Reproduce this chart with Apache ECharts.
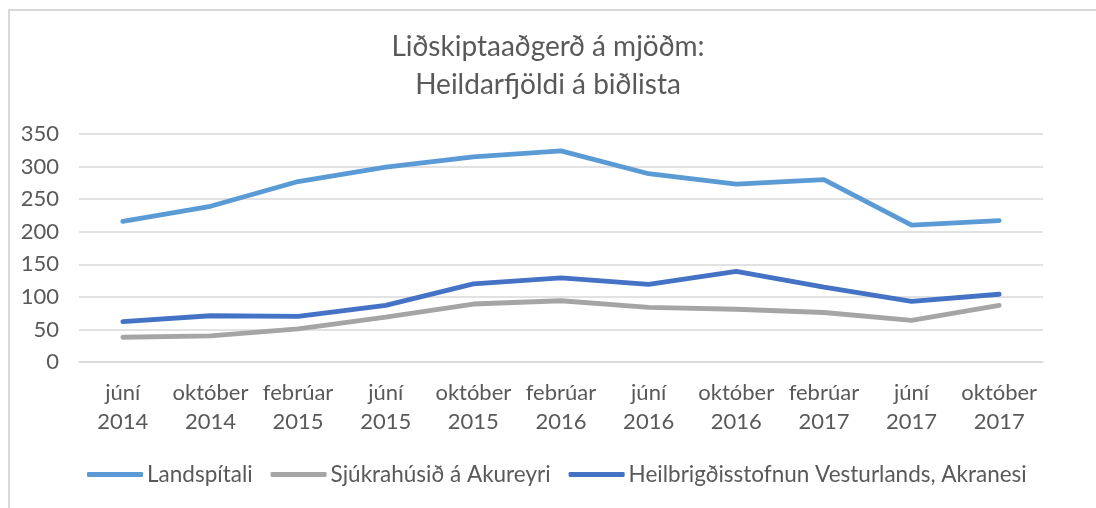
<!DOCTYPE html>
<html>
<head>
<meta charset="utf-8">
<script src="https://cdn.jsdelivr.net/npm/echarts@6/dist/echarts.min.js"></script>
<style>
  html, body { margin: 0; padding: 0; background: #fff; overflow: hidden; }
  .frame {
    position: absolute; left: 8px; top: 9px; width: 1100px; height: 510px;
    border-left: 2px solid #d9d9d9; border-top: 2px solid #d9d9d9;
  }
  #chart { position: absolute; left: 0; top: 0; width: 1096px; height: 508px; }
</style>
</head>
<body>
<div class="frame"></div>
<div id="chart"></div>
<script>
const categories = [
  "júní\n2014", "október\n2014", "febrúar\n2015", "júní\n2015", "október\n2015",
  "febrúar\n2016", "júní\n2016", "október\n2016", "febrúar\n2017", "júní\n2017", "október\n2017"
];
const landspitali = [216, 239, 277, 299, 315, 324, 289, 273, 280, 210, 217];
const akureyri = [38, 40, 51, 69, 89, 94, 84, 81, 76, 64, 87];
const vesturland = [62, 71, 70, 87, 120, 129, 119, 139, 115, 93, 104];
const seriesNames = ["Landspítali", "Sjúkrahúsið á Akureyri", "Heilbrigðisstofnun Vesturlands, Akranesi"];
const colors = ["#5B9BD5", "#A5A5A5", "#4472C4"];

const font = "Lato, 'Open Sans', sans-serif";
const chart = echarts.init(document.getElementById("chart"));

const line = (name, data, color) => ({
  name,
  type: "line",
  data,
  symbol: "none",
  lineStyle: { color, width: 4.8, cap: "round" },
  itemStyle: { color },
});

chart.setOption({
  animation: false,
  color: colors,
  title: {
    text: "Liðskiptaaðgerð á mjöðm:\nHeildarfjöldi á biðlista",
    left: "center",
    top: 23,
    textStyle: { fontFamily: font, fontSize: 28, fontWeight: "normal", color: "#595959", lineHeight: 38 },
  },
  grid: { left: 79, right: 53, top: 134, bottom: 146, containLabel: false },
  legend: {
    bottom: 17,
    left: 82,
    itemWidth: 56,
    itemHeight: 5,
    itemGap: 18,
    icon: "roundRect",
    textStyle: { fontFamily: font, fontSize: 22.5, color: "#595959", padding: [0, 0, 0, -1] },
    data: seriesNames,
  },
  xAxis: {
    type: "category",
    data: categories,
    boundaryGap: true,
    axisLine: { lineStyle: { color: "#d9d9d9", width: 1.5 } },
    axisTick: { show: false },
    axisLabel: { fontFamily: font, fontSize: 22, color: "#595959", lineHeight: 29, margin: 16, interval: 0 },
  },
  yAxis: {
    type: "value",
    min: 0,
    max: 350,
    interval: 50,
    axisLine: { show: false },
    axisTick: { show: false },
    splitLine: { lineStyle: { color: "#d9d9d9", width: 1.5 } },
    axisLabel: { fontFamily: font, fontSize: 22, color: "#595959", margin: 20 },
  },
  series: [
    line(seriesNames[0], landspitali, colors[0]),
    line(seriesNames[1], akureyri, colors[1]),
    line(seriesNames[2], vesturland, colors[2]),
  ],
});
</script>
</body>
</html>
